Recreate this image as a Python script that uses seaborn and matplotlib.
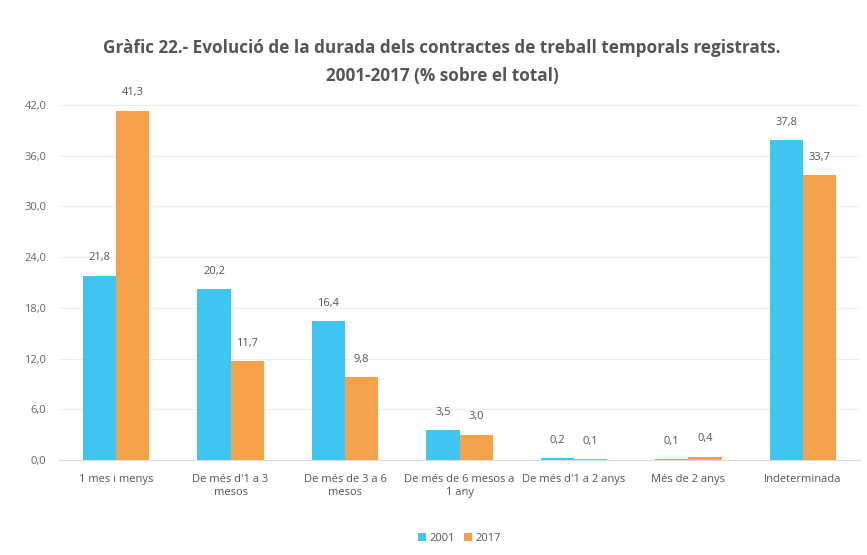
import matplotlib
matplotlib.use("Agg")
import matplotlib.pyplot as plt
import seaborn as sns
import pandas as pd

categories = ["1 mes i menys", "De més d'1 a 3\nmesos", "De més de 3 a 6\nmesos",
              "De més de 6 mesos a\n1 any", "De més d'1 a 2 anys", "Més de 2 anys",
              "Indeterminada"]
values_2001 = [21.8, 20.2, 16.4, 3.5, 0.2, 0.1, 37.8]
values_2017 = [41.3, 11.7, 9.8, 3.0, 0.1, 0.4, 33.7]
years = ["2001", "2017"]
yticks = [0, 6, 12, 18, 24, 30, 36, 42]

df = pd.DataFrame({
    "cat": categories * 2,
    "val": values_2001 + values_2017,
    "year": [years[0]] * len(categories) + [years[1]] * len(categories),
})

sns.set_style("white")
plt.rcParams['font.family'] = ['Open Sans', 'DejaVu Sans']

fig = plt.figure(figsize=(8.67, 5.55), dpi=100)
ax = fig.add_axes([0.068, 0.171, 0.924, 0.64])

palette = {"2001": "#3EC6F0", "2017": "#F5A24B"}
sns.barplot(data=df, x="cat", y="val", hue="year", palette=palette, width=0.58,
            ax=ax, saturation=1, legend=True, linewidth=0)

for cont in ax.containers:
    ax.bar_label(cont, labels=[f"{v:.1f}".replace(".", ",") for v in cont.datavalues],
                 padding=9, fontsize=8, color="#555555")

ax.set_ylim(0, 42)
ax.set_xlim(-0.5, 6.5)
ax.set_yticks(yticks)
ax.set_yticklabels([f"{t:.1f}".replace(".", ",") for t in yticks], fontsize=8, color="#666666")
ax.tick_params(axis="x", labelsize=8, colors="#555555", length=0, pad=10)
ax.tick_params(axis="y", length=0, pad=9)
ax.yaxis.grid(True, color="#EEEEEE", linewidth=0.8)
ax.set_axisbelow(True)
for s in ["top", "right", "left"]:
    ax.spines[s].set_visible(False)
ax.spines["bottom"].set_color("#DDDDDD")
ax.set_xlabel("")
ax.set_ylabel("")

h, l = ax.get_legend_handles_labels()
ax.legend(h, l, loc="lower center", bbox_to_anchor=(0.5, -0.265), ncol=2, frameon=False,
          fontsize=8, handlelength=0.7, handleheight=0.7, handletextpad=0.3, columnspacing=0.8,
          labelcolor="#555555")

fig.suptitle("Gràfic 22.- Evolució de la durada dels contractes de treball temporals registrats.\n"
             "2001-2017 (% sobre el total)", x=0.51, y=0.93, fontsize=12.3, fontweight="bold",
             color="#555555", linespacing=1.75, fontstretch="condensed")

fig.savefig("out.png", dpi=100)
